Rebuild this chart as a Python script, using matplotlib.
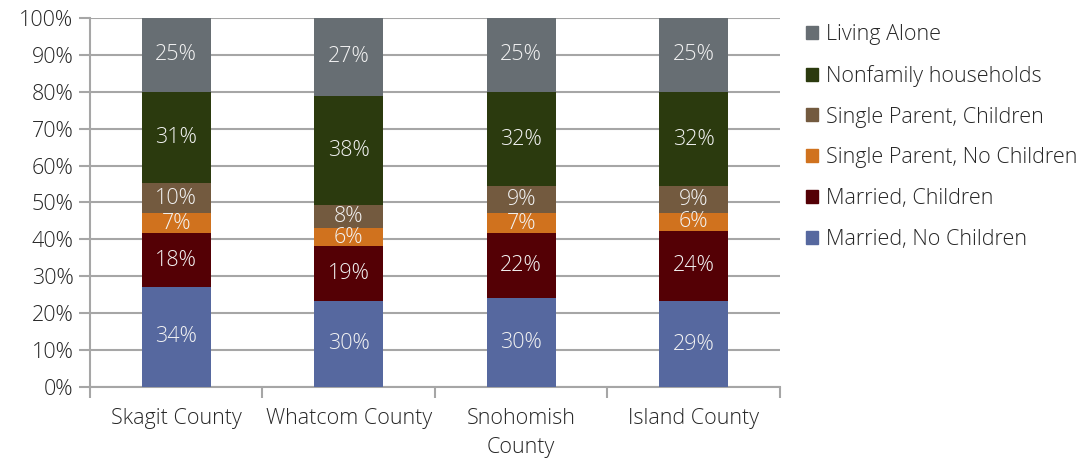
import matplotlib

matplotlib.use("Agg")
import matplotlib.pyplot as plt
import numpy as np
from matplotlib.patches import Patch

plt.rcParams["font.family"] = ["Open Sans", "DejaVu Sans"]
plt.rcParams["font.weight"] = "light"

counties = ["Skagit County", "Whatcom County", "Snohomish\nCounty", "Island County"]

# raw label values (percent); bars are normalised to 100% like the source chart
married_no_children = [34, 30, 30, 29]
married_children = [18, 19, 22, 24]
single_parent_no_children = [7, 6, 7, 6]
single_parent_children = [10, 8, 9, 9]
nonfamily = [31, 38, 32, 32]
living_alone = [25, 27, 25, 25]

series = [
    ("Married, No Children", married_no_children, "#56689F"),
    ("Married, Children", married_children, "#540005"),
    ("Single Parent, No Children", single_parent_no_children, "#D0721E"),
    ("Single Parent, Children", single_parent_children, "#735A3F"),
    ("Nonfamily households", nonfamily, "#2B3A0E"),
    ("Living Alone", living_alone, "#676E73"),
]

values = np.array([s[1] for s in series], dtype=float)
shares = values / values.sum(axis=0) * 100

fs = 15.5
fig = plt.figure(figsize=(10.78, 4.61), dpi=100)
ax = fig.add_axes([0.0835, 0.1605, 0.64, 0.8005])

x = np.arange(len(counties))
bottom = np.zeros(len(counties))
for (name, raw, color), share in zip(series, shares):
    ax.bar(x, share, bottom=bottom, width=0.4, color=color, zorder=3)
    for xi, b, h, r in zip(x, bottom, share, raw):
        ax.text(xi, b + h / 2, f"{r}%", ha="center", va="center",
                color="#F2F2F2", fontsize=fs, zorder=4)
    bottom += share

ax.set_xlim(-0.5, len(counties) - 0.5)
ax.set_ylim(0, 100)
ax.set_yticks(np.arange(0, 101, 10))
ax.set_yticklabels([f"{v}%" for v in range(0, 101, 10)])
ax.yaxis.grid(True, color="#A6A6A6", linewidth=1.5, zorder=0)
ax.set_axisbelow(True)

ax.set_xticks(x)
ax.set_xticklabels(counties, linespacing=1.5)
ax.tick_params(axis="x", length=0, pad=15, labelsize=fs, labelcolor="#262626")
ax.set_xticks(np.arange(-0.5, len(counties), 1), minor=True)
ax.tick_params(axis="x", which="minor", length=8, width=1.5, color="#A6A6A6")
ax.tick_params(axis="y", length=8, width=1.5, color="#A6A6A6", labelsize=fs,
               labelcolor="#262626", pad=4)

for side in ("top", "right"):
    ax.spines[side].set_visible(False)
for side in ("left", "bottom"):
    ax.spines[side].set_color("#A6A6A6")
    ax.spines[side].set_linewidth(1.5)

handles = [Patch(color=c, label=n) for n, _, c in reversed(series)]
fig.legend(handles=handles, loc="upper left", bbox_to_anchor=(0.73, 0.99),
           frameon=False, fontsize=fs, labelspacing=0.92, handlelength=0.55,
           handleheight=0.55, handletextpad=0.35, labelcolor="#262626")

fig.savefig("out.png", dpi=100)
